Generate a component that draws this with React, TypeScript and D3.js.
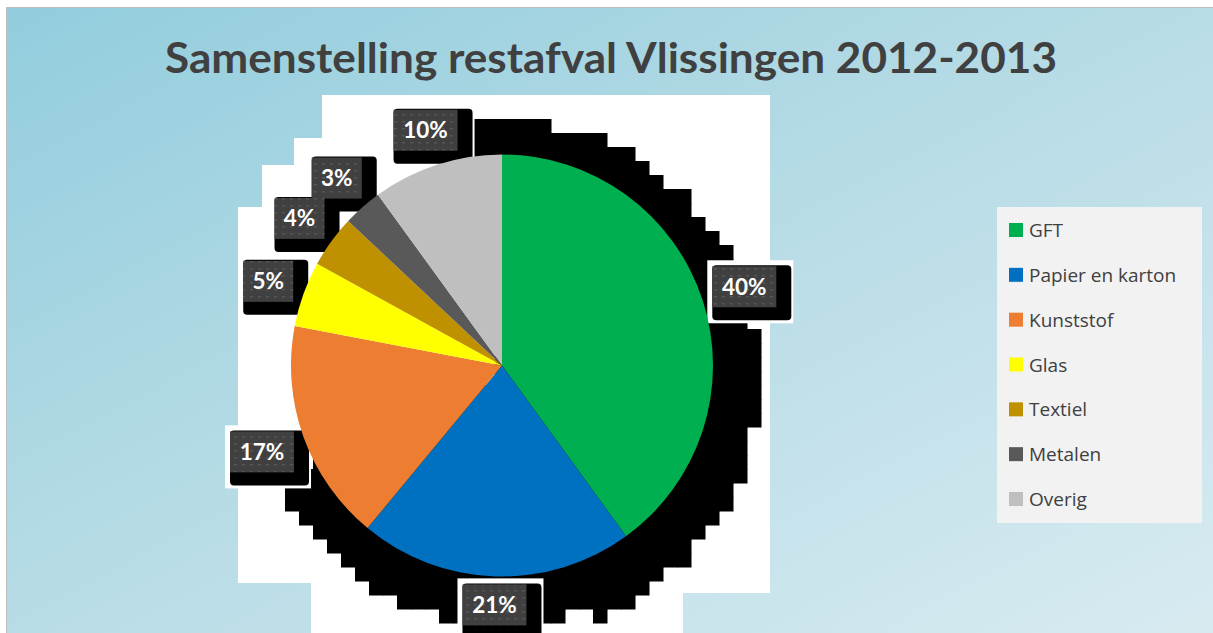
import React from "react";
import * as d3 from "d3";

const categories = ["GFT", "Papier en karton", "Kunststof", "Glas", "Textiel", "Metalen", "Overig"];
const values = [40, 21, 17, 5, 4, 3, 10];
const colors = ["#00b050", "#0070c0", "#ed7d31", "#ffff00", "#bf9000", "#595959", "#bfbfbf"];
const labelTexts = ["40%", "21%", "17%", "5%", "4%", "3%", "10%"];
const title = "Samenstelling restafval Vlissingen 2012-2013";

const W = 1213;
const H = 633;
const cx = 502;
const cy = 365.5;
const R = 211;

export default function App() {
  const pie = d3.pie<number>().sort(null).value((d) => d)(values);
  const arc = d3.arc<d3.PieArcDatum<number>>().innerRadius(0).outerRadius(R);

  // blocky shadow (decorative artifact of the original rendering)
  const cell = 14;
  const scx = 502, scy = 378;
  const shadowCells: { x: number; y: number }[] = [];
  for (let i = -21; i <= 21; i++) {
    for (let j = -21; j <= 21; j++) {
      const x = scx + i * cell - cell / 2;
      const y = scy + j * cell - cell / 2;
      const mx = x + cell / 2, my = y + cell / 2;
      const dx = mx - scx, dy = my - scy;
      const d = Math.sqrt(dx * dx + dy * dy);
      let th = (Math.atan2(dx, -dy) * 180) / Math.PI;
      if (th < 0) th += 360;
      let rOut = 0;
      if (th >= 350 || th <= 160) rOut = 258;
      else if (th <= 246) rOut = 247;
      if (d <= rOut && my < H) shadowCells.push({ x, y });
    }
  }

  const whitePath =
    "M322,95 L770,95 L770,593 L683,593 L683,633 L311,633 L311,583 L238,583 L238,207 L262,207 L262,165 L294,165 L294,138 L322,138 Z";

  const gap = 7;
  const labels = pie.map((p, i) => {
    const a = (p.startAngle + p.endAngle) / 2;
    const ux = Math.sin(a), uy = -Math.cos(a);
    const w = labelTexts[i].length > 2 ? 64 : 50;
    const h = 41;
    const dist = R + gap + (w / 2) * Math.abs(ux) + (h / 2) * Math.abs(uy);
    const lcx = cx + dist * ux, lcy = cy + dist * uy;
    return { x: lcx - w / 2, y: lcy - h / 2, w, h, cxl: lcx, cyl: lcy, text: labelTexts[i] };
  });

  const legendX = 997, legendY = 207;
  const legendRow = d3.scaleLinear().domain([0, categories.length - 1]).range([230, 499]);

  return (
    <div style={{ position: "absolute", left: 0, top: 0 }}>
      <svg width={W} height={H} style={{ display: "block" }}>
        <defs>
          <linearGradient id="bg" x1="0" y1="0" x2="1" y2="1">
            <stop offset="0" stopColor="#92cddd" />
            <stop offset="0.5" stopColor="#b8dce6" />
            <stop offset="1" stopColor="#d8ebf1" />
          </linearGradient>
          <pattern id="dots" width="8" height="7" patternUnits="userSpaceOnUse">
            <rect width="8" height="7" fill="#404040" />
            <rect x="2" y="2" width="3" height="1.5" fill="#555555" />
          </pattern>
        </defs>
        <rect width={W} height={H} fill="#ffffff" />
        <rect x={6.5} y={7.5} width={W - 6} height={H - 7} fill="url(#bg)" stroke="#bdbdbd" strokeWidth={1} />

        <text
          x={611}
          y={73}
          textAnchor="middle"
          fontFamily="Lato, 'Open Sans', sans-serif"
          fontWeight={700}
          fontSize={42}
          fill="#404040"
          textLength={892}
          lengthAdjust="spacingAndGlyphs"
        >
          {title}
        </text>

        <path d={whitePath} fill="#ffffff" />
        <g>
          {shadowCells.map((c, i) => (
            <rect key={i} x={c.x} y={c.y} width={cell + 0.5} height={cell + 0.5} fill="#000000" />
          ))}
        </g>

        {labels.map((l, i) => (
          <rect key={"w" + i} x={l.x - 5} y={l.y - 6} width={l.w + 22} height={l.h + 22} fill="#ffffff" />
        ))}
        {labels.map((l, i) => (
          <rect key={"s" + i} x={l.x} y={l.y - 1} width={l.w + 15} height={l.h + 14} rx={4} fill="#000000" />
        ))}

        <g transform={`translate(${cx},${cy})`}>
          {pie.map((p, i) => (
            <path key={i} d={arc(p) || ""} fill={colors[i]} />
          ))}
        </g>

        {labels.map((l, i) => (
          <g key={"l" + i}>
            <rect x={l.x} y={l.y} width={l.w} height={l.h} fill="url(#dots)" />
            <text
              x={l.cxl}
              y={l.cyl + 8}
              textAnchor="middle"
              fontFamily="Lato, 'Open Sans', sans-serif"
              fontWeight={700}
              fontSize={22.5}
              fill="#ffffff"
            >
              {l.text}
            </text>
          </g>
        ))}

        <rect x={legendX} y={legendY} width={205} height={316} fill="#f2f2f2" />
        {categories.map((c, i) => (
          <g key={c}>
            <rect x={1009} y={legendRow(i) - 7} width={14} height={14} fill={colors[i]} />
            <text
              x={1029}
              y={legendRow(i) + 7}
              fontFamily="'Open Sans', sans-serif"
              fontSize={19}
              fill="#404040"
            >
              {c}
            </text>
          </g>
        ))}
      </svg>
    </div>
  );
}
